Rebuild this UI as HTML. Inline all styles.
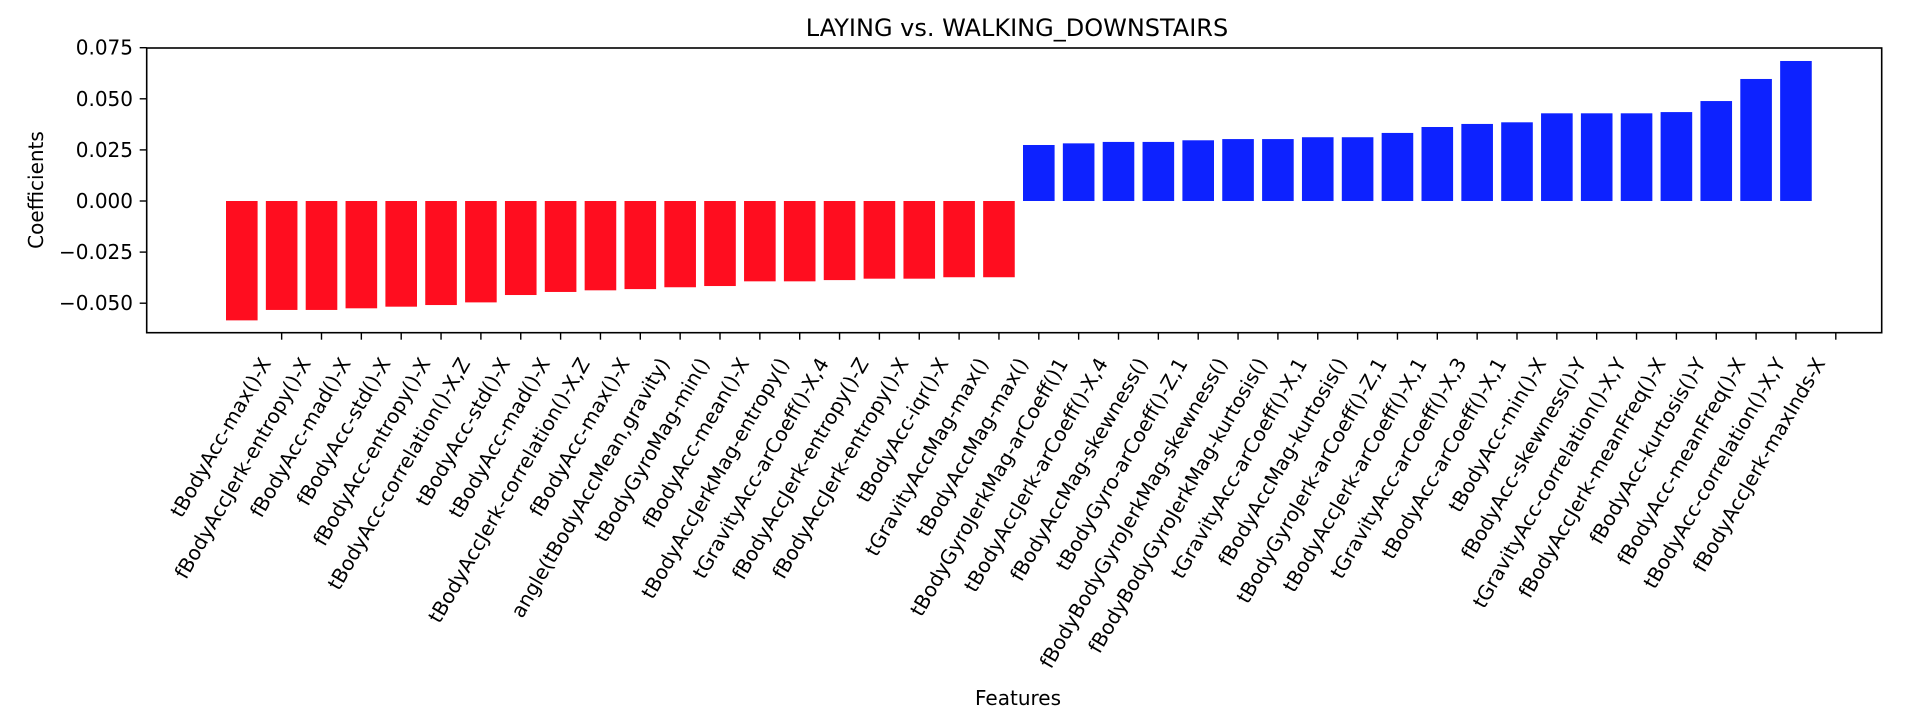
<!DOCTYPE html>
<html><head><meta charset="utf-8"><style>
html,body{margin:0;padding:0;background:#fff;}
svg{display:block;font-family:"DejaVu Sans","Liberation Sans",sans-serif;}
</style></head><body>
<svg id="chart" width="1912" height="720" viewBox="0 0 1912 720" xmlns="http://www.w3.org/2000/svg">
<rect width="1912" height="720" fill="#fff"/>
<text x="1017" y="36" font-size="24" text-anchor="middle" fill="#000">LAYING vs. WALKING_DOWNSTAIRS</text>
<text transform="translate(43,190) rotate(-90)" font-size="20" text-anchor="middle" fill="#000">Coefficients</text>
<text x="1018" y="705" font-size="20" text-anchor="middle" fill="#000">Features</text>
<g id="bars"></g>
<g id="yticks"></g>
<g id="xticks"></g>
<rect x="146.7" y="48" width="1735" height="284.7" fill="none" stroke="#000" stroke-width="1.6"/>
</svg>
<script>
const features = ["tBodyAcc-max()-X","fBodyAccJerk-entropy()-X","fBodyAcc-mad()-X","fBodyAcc-std()-X","fBodyAcc-entropy()-X","tBodyAcc-correlation()-X,Z","tBodyAcc-std()-X","tBodyAcc-mad()-X","tBodyAccJerk-correlation()-X,Z","fBodyAcc-max()-X","angle(tBodyAccMean,gravity)","tBodyGyroMag-min()","fBodyAcc-mean()-X","tBodyAccJerkMag-entropy()","tGravityAcc-arCoeff()-X,4","fBodyAccJerk-entropy()-Z","fBodyAccJerk-entropy()-X","tBodyAcc-iqr()-X","tGravityAccMag-max()","tBodyAccMag-max()","tBodyGyroJerkMag-arCoeff()1","tBodyAccJerk-arCoeff()-X,4","fBodyAccMag-skewness()","tBodyGyro-arCoeff()-Z,1","fBodyBodyGyroJerkMag-skewness()","fBodyBodyGyroJerkMag-kurtosis()","tGravityAcc-arCoeff()-X,1","fBodyAccMag-kurtosis()","tBodyGyroJerk-arCoeff()-Z,1","tBodyAccJerk-arCoeff()-X,1","tGravityAcc-arCoeff()-X,3","tBodyAcc-arCoeff()-X,1","tBodyAcc-min()-X","fBodyAcc-skewness()-Y","tGravityAcc-correlation()-X,Y","fBodyAccJerk-meanFreq()-X","fBodyAcc-kurtosis()-Y","fBodyAcc-meanFreq()-X","tBodyAcc-correlation()-X,Y","fBodyAccJerk-maxInds-X"];
const coefficients = [-0.0584,-0.0533,-0.0533,-0.0525,-0.0517,-0.0509,-0.0496,-0.046,-0.0445,-0.0437,-0.0431,-0.0422,-0.0416,-0.0393,-0.0393,-0.0387,-0.038,-0.038,-0.0373,-0.0373,0.0274,0.0282,0.0289,0.0289,0.0297,0.0303,0.0303,0.0312,0.0312,0.0333,0.0362,0.0377,0.0385,0.0429,0.0429,0.0429,0.0435,0.0489,0.0597,0.0685];
const yTicks = [-0.050,-0.025,0.000,0.025,0.050,0.075];
const yTickLabels = ["\u22120.050","\u22120.025","0.000","0.025","0.050","0.075"];

const NS = "http://www.w3.org/2000/svg";
const X0 = 241.8, PITCH = 39.85, BARW = 31.6;
const Y0 = 201, YSCALE = 2044;
function xPos(i){ return X0 + i*PITCH; }
function yPos(v){ return Y0 - v*YSCALE; }

const gb = document.getElementById('bars');
coefficients.forEach((v,i)=>{
  const r = document.createElementNS(NS,'rect');
  const y1 = yPos(Math.max(v,0)), y2 = yPos(Math.min(v,0));
  r.setAttribute('x', xPos(i)-BARW/2);
  r.setAttribute('y', y1);
  r.setAttribute('width', BARW);
  r.setAttribute('height', y2-y1);
  r.setAttribute('fill', v<0 ? '#ff0d1f' : '#0d22ff');
  
  
  gb.appendChild(r);
});

const gy = document.getElementById('yticks');
yTicks.forEach((v,i)=>{
  const y = yPos(v);
  const l = document.createElementNS(NS,'line');
  l.setAttribute('x1',139.7); l.setAttribute('x2',146.7);
  l.setAttribute('y1',y); l.setAttribute('y2',y);
  l.setAttribute('stroke','#000'); l.setAttribute('stroke-width','1.4');
  
  
  gy.appendChild(l);
  const t = document.createElementNS(NS,'text');
  t.setAttribute('x',133); t.setAttribute('y',y+7);
  t.setAttribute('font-size','20'); t.setAttribute('text-anchor','end');
  t.textContent = yTickLabels[i];
  
  
  gy.appendChild(t);
});

const gx = document.getElementById('xticks');
features.forEach((f,i)=>{
  const x = xPos(i+1);
  const l = document.createElementNS(NS,'line');
  l.setAttribute('x1',x); l.setAttribute('x2',x);
  l.setAttribute('y1',332.7); l.setAttribute('y2',339.7);
  l.setAttribute('stroke','#000'); l.setAttribute('stroke-width','1.4');
  
  
  gx.appendChild(l);
  const t = document.createElementNS(NS,'text');
  t.setAttribute('transform','translate('+(x-10)+',363) rotate(-60)');
  t.setAttribute('font-size','20'); t.setAttribute('text-anchor','end');
  t.textContent = f;
  
  
  gx.appendChild(t);
});
</script>
</body></html>
